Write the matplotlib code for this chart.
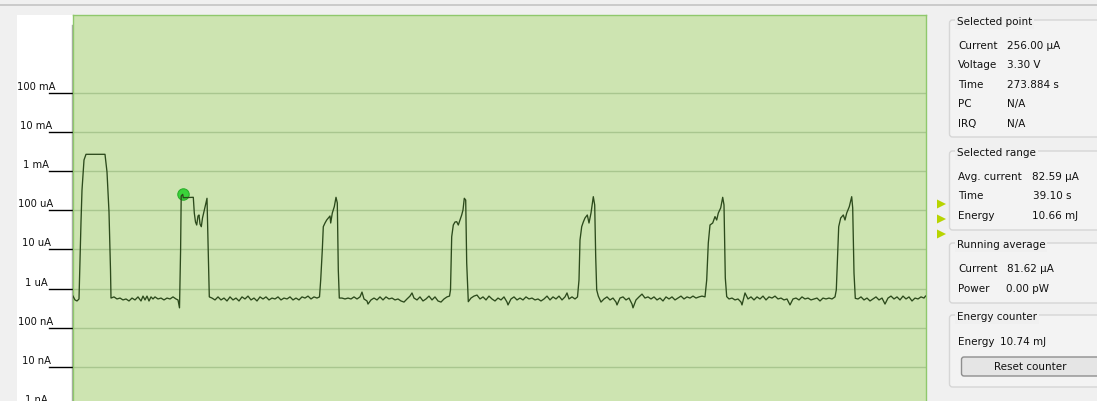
import matplotlib
matplotlib.use("Agg")
import matplotlib.pyplot as plt
import matplotlib.transforms as mtransforms
from matplotlib.patches import Rectangle, FancyBboxPatch, Polygon

# ---------------- data ----------------
# time within the visible window (s) and measured current (uA)
time_s = [
    # first (large) pulse
    0.00, 0.10, 0.20, 0.30, 0.35, 0.40, 0.45, 0.55, 0.65, 1.60, 1.70, 1.80, 1.875, 1.90,
    # baseline
    2.05, 2.20, 2.35, 2.50, 2.65, 2.80, 2.95, 3.10, 3.25, 3.40, 3.50, 3.60, 3.70, 3.80,
    3.90, 4.00, 4.10, 4.25, 4.40, 4.55, 4.70, 4.85, 5.00, 5.15, 5.25, 5.325,
    # second pulse (selected point)
    5.38, 5.41, 5.485, 5.515, 6.015, 6.065, 6.125, 6.185, 6.25, 6.30, 6.35, 6.415,
    6.475, 6.55, 6.625, 6.70, 6.765, 6.815,
    # baseline
    6.95, 7.10, 7.25, 7.40, 7.55, 7.70, 7.85, 8.00, 8.15, 8.30, 8.45, 8.60, 8.75, 8.90,
    9.05, 9.20, 9.35, 9.50, 9.65, 9.80, 9.95, 10.10, 10.25, 10.40, 10.55, 10.70, 10.85,
    11.00, 11.15, 11.30, 11.45, 11.60, 11.75, 11.90, 12.05, 12.20, 12.325,
    # pulse 3
    12.385, 12.465, 12.515, 12.60, 12.685, 12.765, 12.85, 12.885, 12.965, 13.065,
    13.15, 13.215, 13.265, 13.315,
    # baseline
    13.45, 13.60, 13.75, 13.90, 14.05, 14.20, 14.35, 14.45, 14.55, 14.70, 14.75, 14.90,
    15.05, 15.20, 15.35, 15.50, 15.65, 15.80, 15.95, 16.10, 16.25, 16.40, 16.55, 16.70,
    16.85, 16.95, 17.05, 17.20, 17.35, 17.50, 17.65, 17.80, 17.95, 18.10, 18.25, 18.40,
    18.55, 18.70, 18.825,
    # pulse 4
    18.875, 18.935, 19.015, 19.10, 19.185, 19.265, 19.35, 19.435, 19.50, 19.565,
    19.635, 19.685, 19.765,
    # baseline
    19.90, 20.05, 20.20, 20.35, 20.50, 20.65, 20.80, 20.95, 21.10, 21.25, 21.40, 21.55,
    21.70, 21.75, 21.90, 22.05, 22.20, 22.35, 22.50, 22.65, 22.80, 22.95, 23.10, 23.25,
    23.40, 23.55, 23.70, 23.85, 24.00, 24.15, 24.30, 24.45, 24.60, 24.70, 24.80, 24.95,
    25.10, 25.225,
    # pulse 5
    25.30, 25.35, 25.435, 25.515, 25.60, 25.715, 25.80, 25.90, 26.015, 26.085, 26.135,
    26.185, 26.265,
    # baseline
    26.40, 26.55, 26.70, 26.85, 27.00, 27.15, 27.20, 27.35, 27.50, 27.65, 27.80, 27.95,
    28.00, 28.15, 28.30, 28.45, 28.60, 28.75, 28.90, 29.05, 29.20, 29.35, 29.50, 29.65,
    29.80, 29.95, 30.10, 30.25, 30.40, 30.55, 30.70, 30.85, 31.00, 31.15, 31.30, 31.45,
    31.60,
    # pulse 6
    31.685, 31.765, 31.85, 31.985, 32.10, 32.185, 32.265, 32.385, 32.485, 32.55, 32.615,
    32.685,
    # baseline
    32.80, 32.95, 33.10, 33.25, 33.40, 33.45, 33.60, 33.75, 33.90, 34.05, 34.20, 34.35,
    34.50, 34.65, 34.80, 34.95, 35.10, 35.25, 35.40, 35.55, 35.70, 35.85, 36.00, 36.15,
    36.30, 36.45, 36.60, 36.75, 36.90, 37.05, 37.20, 37.35, 37.50, 37.65, 37.80, 37.95,
    38.10,
    # pulse 7
    38.165, 38.215, 38.285, 38.385, 38.515, 38.60, 38.685, 38.815, 38.935, 38.985, 39.05,
    39.115,
    # baseline
    39.25, 39.40, 39.55, 39.70, 39.85, 40.00, 40.15, 40.30, 40.45, 40.60, 40.75, 40.90,
    41.05, 41.20, 41.35, 41.50, 41.65, 41.80, 41.95, 42.10, 42.25, 42.40, 42.55, 42.625,
]

current_uA = [
    # first (large) pulse
    0.64, 0.51, 0.48, 0.54, 5.36, 50.2, 330, 1934, 2705, 2705, 954, 90.5, 2.97, 0.57,
    # baseline
    0.61, 0.54, 0.57, 0.51, 0.54, 0.48, 0.57, 0.51, 0.61, 0.48, 0.64, 0.51, 0.64, 0.48,
    0.61, 0.54, 0.61, 0.54, 0.57, 0.51, 0.57, 0.54, 0.61, 0.54, 0.51, 0.32,
    # second pulse (selected point)
    9.65, 232, 256, 210, 215, 85, 50.2, 42.1, 71.5, 76, 44.6, 38.1,
    63.5, 92, 137, 203, 7.19, 0.61,
    # baseline
    0.57, 0.51, 0.61, 0.51, 0.57, 0.48, 0.61, 0.51, 0.57, 0.48, 0.61, 0.54, 0.64, 0.51,
    0.57, 0.48, 0.61, 0.54, 0.61, 0.51, 0.57, 0.54, 0.61, 0.51, 0.57, 0.54, 0.61,
    0.51, 0.57, 0.51, 0.61, 0.57, 0.64, 0.54, 0.61, 0.57, 0.61,
    # pulse 3
    1.65, 9.65, 38.1, 47.3, 56.5, 63.5, 71.5, 47.3, 85, 124,
    215, 154, 2.97, 0.57,
    # baseline
    0.57, 0.54, 0.57, 0.54, 0.61, 0.54, 0.61, 0.81, 0.54, 0.48, 0.40, 0.51,
    0.57, 0.51, 0.61, 0.51, 0.61, 0.54, 0.57, 0.51, 0.54, 0.48, 0.45, 0.54,
    0.64, 0.77, 0.57, 0.51, 0.61, 0.48, 0.54, 0.64, 0.51, 0.61, 0.48, 0.45,
    0.54, 0.61, 0.64,
    # pulse 4
    0.92, 21.1, 42.1, 50.2, 51.1, 42.1, 56.5, 76, 102, 203,
    183, 4.49, 0.46,
    # baseline
    0.57, 0.64, 0.68, 0.54, 0.61, 0.51, 0.64, 0.54, 0.48, 0.57, 0.51, 0.61,
    0.45, 0.38, 0.54, 0.61, 0.51, 0.57, 0.51, 0.61, 0.54, 0.57, 0.51, 0.54,
    0.48, 0.54, 0.64, 0.51, 0.61, 0.54, 0.64, 0.51, 0.61, 0.77, 0.54, 0.61,
    0.54, 0.61,
    # pulse 5
    1.65, 17.4, 38.1, 50.2, 63.5, 76, 47.3, 85, 223, 137, 6.51,
    0.92, 0.64,
    # baseline
    0.45, 0.54, 0.61, 0.51, 0.57, 0.45, 0.38, 0.57, 0.61, 0.51, 0.57, 0.40,
    0.32, 0.51, 0.61, 0.72, 0.57, 0.61, 0.54, 0.61, 0.51, 0.57, 0.48, 0.61,
    0.54, 0.61, 0.51, 0.57, 0.64, 0.54, 0.61, 0.57, 0.64, 0.57, 0.61, 0.64,
    0.61,
    # pulse 6
    1.65, 14.6, 42.1, 47.3, 69, 56.5, 85, 115, 215, 137, 1.86,
    0.62,
    # baseline
    0.54, 0.57, 0.51, 0.54, 0.45, 0.38, 0.77, 0.54, 0.61, 0.51, 0.61, 0.54,
    0.64, 0.51, 0.61, 0.57, 0.64, 0.54, 0.57, 0.51, 0.54, 0.38, 0.54, 0.57,
    0.51, 0.61, 0.54, 0.57, 0.51, 0.54, 0.57, 0.48, 0.57, 0.54, 0.57, 0.54,
    0.61,
    # pulse 7
    0.92, 4.49, 38.1, 63.5, 76, 56.5, 85, 124, 223, 115, 2.49,
    0.56,
    # baseline
    0.54, 0.61, 0.51, 0.57, 0.48, 0.54, 0.61, 0.51, 0.57, 0.40, 0.57, 0.64,
    0.54, 0.61, 0.51, 0.64, 0.54, 0.61, 0.48, 0.57, 0.54, 0.61, 0.57, 0.64,
]

selected_time_s = 5.485
selected_current_uA = 256.0

grid_values_uA = [1e5, 1e4, 1e3, 1e2, 1e1, 1e0, 1e-1, 1e-2, 1e-3]
grid_labels = ["100 mA", "10 mA", "1 mA", "100 uA", "10 uA", "1 uA", "100 nA", "10 nA", "1 nA"]

panel_groups = [
    ("Selected point", [("Current", "256.00 µA"), ("Voltage", "3.30 V"), ("Time", "273.884 s"),
                        ("PC", "N/A"), ("IRQ", "N/A")]),
    ("Selected range", [("Avg. current", "82.59 µA"), ("Time", "39.10 s"), ("Energy", "10.66 mJ")]),
    ("Running average", [("Current", "81.62 µA"), ("Power", "0.00 pW")]),
    ("Energy counter", [("Energy", "10.74 mJ")]),
]
button_label = "Reset counter"

# ---------------- layout ----------------
W, H = 1097, 401
plt.rcParams['font.family'] = ['DejaVu Sans']
fig = plt.figure(figsize=(W / 100, H / 100), dpi=100)
fig.patch.set_facecolor('#f0f0f0')

bg = fig.add_axes([0, 0, 1, 1], zorder=0)
bg.set_xlim(0, W)
bg.set_ylim(H, 0)
bg.axis('off')

bg.plot([0, W], [4.5, 4.5], color='#c4c4c4', lw=1.2)
bg.add_patch(Rectangle((17, 15), 56, H - 15, facecolor='white', edgecolor='none'))
bg.plot([71.5, 71.5], [25, H], color='#a8a8a8', lw=1)

ax = fig.add_axes([73 / W, 0, (925.7 - 73) / W, (H - 15) / H], zorder=1)
ax.set_facecolor('#cde4b1')
ax.set_yscale('log')
ax.set_ylim(10 ** -2.877, 10 ** 6.995)
ax.set_xlim(0, 42.635)
ax.tick_params(which='both', left=False, bottom=False, labelleft=False, labelbottom=False)
for side in ['top', 'left', 'right']:
    ax.spines[side].set_color('#8fc86c')
    ax.spines[side].set_linewidth(1)
ax.spines['bottom'].set_visible(False)

for v in grid_values_uA:
    ax.axhline(v, color='#a9c68f', lw=1, zorder=1)

ax.plot([selected_time_s], [selected_current_uA], 'o', ms=8.2, mfc='#3ad23a',
        mec='#2bb02b', mew=0.8, zorder=2)
ax.plot(time_s, current_uA, color='#2c4a1c', lw=0.95, zorder=3)

# left tick labels (centered text above a short black tick line)
trans = mtransforms.blended_transform_factory(bg.transData, ax.transData)
trans_txt = mtransforms.offset_copy(trans, fig=fig, x=0, y=6, units='dots')
for v, lab in zip(grid_values_uA, grid_labels):
    bg.plot([49, 72], [v, v], transform=trans, color='black', lw=1, clip_on=False)
    bg.text(36, v, lab, transform=trans_txt, ha='center', va='center',
            fontsize=7.2, color='#111111', clip_on=False)

# right information panel
box_tops = [20, 151, 243, 315]
box_bottoms = [137, 230, 303, 387]
row_y = [[46, 65, 85, 104, 124], [177, 196, 216], [269, 289], [342]]
value_x = [[1007] * 5, [1032, 1033, 1032], [1007, 1006], [1000]]
for (title, rows), top, bot, ys, vxs in zip(panel_groups, box_tops, box_bottoms, row_y, value_x):
    bg.add_patch(FancyBboxPatch((949.5, top), 200, bot - top,
                                boxstyle='round,pad=0,rounding_size=3',
                                facecolor='#f3f3f3', edgecolor='#d6d6d6', lw=1))
    bg.text(957, top + 2, title, ha='left', va='center', fontsize=7.5, color='#111111',
            bbox=dict(facecolor='#f0f0f0', edgecolor='none', pad=1.2))
    for (lab, val), y, vx in zip(rows, ys, vxs):
        bg.text(958, y, lab, ha='left', va='center', fontsize=7.5, color='#111111')
        bg.text(vx, y, val, ha='left', va='center', fontsize=7.5, color='#111111')

bg.add_patch(FancyBboxPatch((961.5, 357), 140, 19, boxstyle='round,pad=0,rounding_size=2.5',
                            facecolor='#e5e5e5', edgecolor='#8e8e8e', lw=1))
bg.text(1030, 366.5, button_label, ha='center', va='center', fontsize=7.5, color='#111111')

for yc in [204, 219, 234]:
    bg.add_patch(Polygon([[937, yc - 4.5], [946, yc], [937, yc + 4.5]], closed=True,
                         facecolor='#b8d400', edgecolor='none'))

fig.savefig('out.png', dpi=100, facecolor=fig.get_facecolor())
